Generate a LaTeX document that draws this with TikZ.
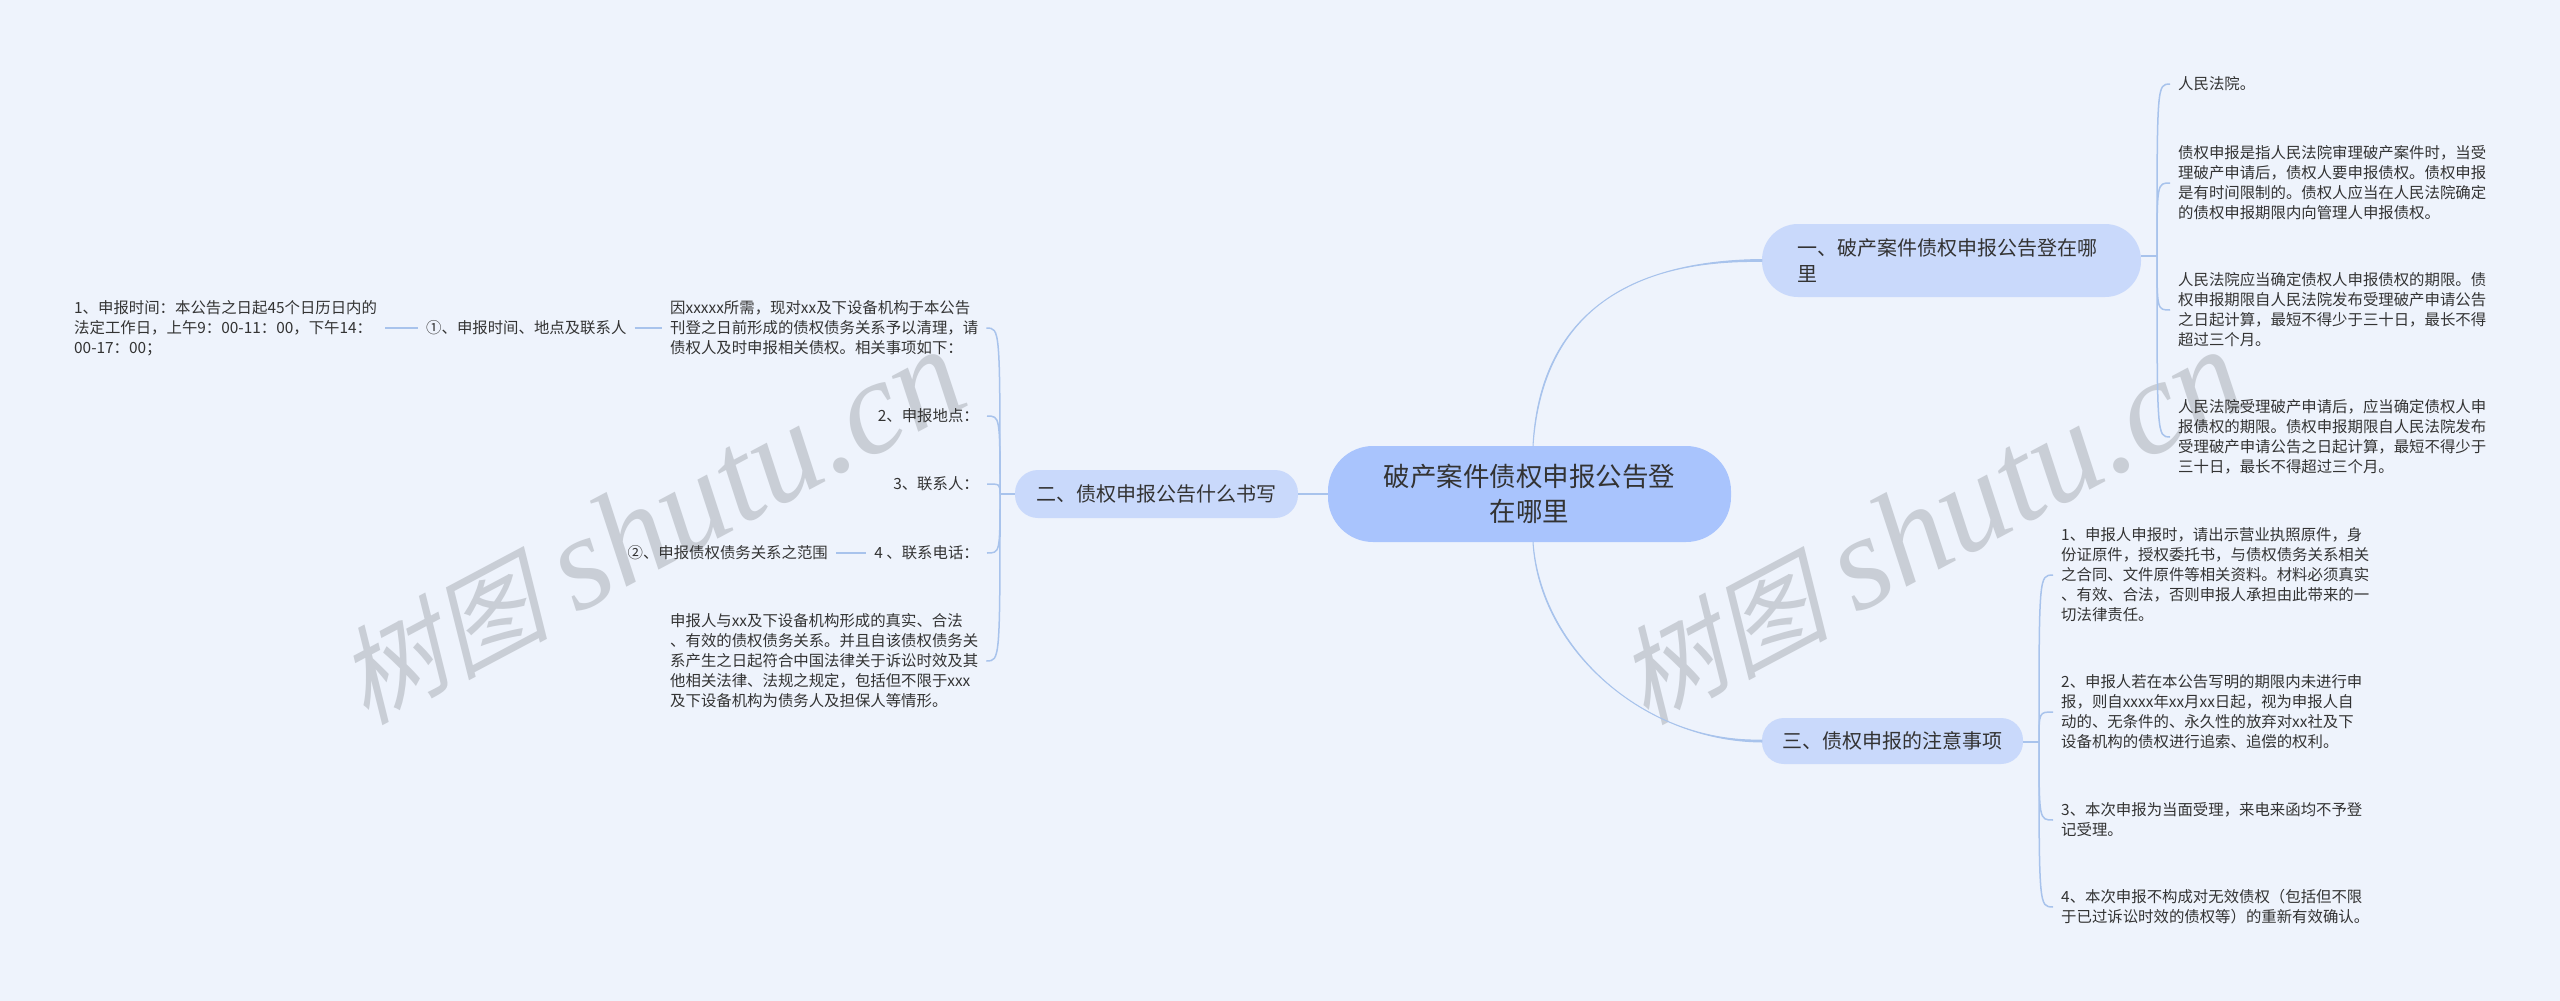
\documentclass[tikz,border=0pt]{standalone}
\usepackage{fontspec}
\setmainfont{Noto Sans CJK SC}
\newfontfamily\wmcjk[FakeSlant=0.25]{Noto Sans CJK SC}
\newfontfamily\wmlat{Liberation Serif Italic}
\definecolor{bgc}{HTML}{EEF3FC}
\definecolor{rootc}{HTML}{A9C4FD}
\definecolor{branchc}{HTML}{C9D9FB}
\definecolor{linec}{HTML}{A8C3EC}
\definecolor{textc}{HTML}{333333}
\definecolor{wmc}{HTML}{C9CED6}
\tikzset{
  x=1pt,y=-1pt,
  leaf/.style={inner xsep=8pt,inner ysep=0pt,align=left,text=textc,font=\fontsize{15.4}{20}\selectfont},
  rootnode/.style={fill=rootc,rounded corners=45pt,minimum width=403pt,minimum height=96pt,inner sep=0pt,align=center,text=textc,font=\fontsize{26.5}{35}\selectfont},
  branch/.style={fill=branchc,inner sep=0pt,text=textc,font=\fontsize{20}{26}\selectfont},
  wmark/.style={text=wmc,rotate=28,inner sep=0pt},
  thick line/.style={draw=linec,line width=2.5pt},
  thin line/.style={draw=linec,line width=1.5pt},
  taper/.style={draw=linec,fill=linec,line width=1pt,line join=round},
}
\newcommand{\wmtext}{{\fontsize{106}{110}\selectfont\wmcjk 树图}\hspace{26pt}{\fontsize{134}{110}\selectfont\wmlat shutu.cn}}
\begin{document}
\begin{tikzpicture}
\useasboundingbox[fill=bgc] (0,0) rectangle (2560,1001);
% watermarks
\node[wmark] (w1) at (650,527) {\wmtext};
\node[wmark] (w2) at (1930,527) {\wmtext};
% main nodes
\node[rootnode] (root) at (1529.5,494) {破产案件债权申报公告登\\在哪里};
\node[branch,rounded corners=36pt,minimum width=379pt,minimum height=73pt,text width=308pt,align=left] (b1) at (1951.5,260.5) {一、破产案件债权申报公告登在哪\\里};
\node[branch,rounded corners=23pt,minimum width=283pt,minimum height=48pt,align=center] (b2) at (1156.5,494) {二、债权申报公告什么书写};
\node[branch,rounded corners=22pt,minimum width=261pt,minimum height=46pt,align=center] (b3) at (1892.5,741) {三、债权申报的注意事项};
% right upper leaves
\coordinate (p1) at (2157,256);
\node[leaf,anchor=west] (a1) at (2170,84) {人民法院。};
\node[leaf,anchor=west] (a2) at (2170,183) {债权申报是指人民法院审理破产案件时，当受\\理破产申请后，债权人要申报债权。债权申报\\是有时间限制的。债权人应当在人民法院确定\\的债权申报期限内向管理人申报债权。};
\node[leaf,anchor=west] (a3) at (2170,310) {人民法院应当确定债权人申报债权的期限。债\\权申报期限自人民法院发布受理破产申请公告\\之日起计算，最短不得少于三十日，最长不得\\超过三个月。};
\node[leaf,anchor=west] (a4) at (2170,437) {人民法院受理破产申请后，应当确定债权人申\\报债权的期限。债权申报期限自人民法院发布\\受理破产申请公告之日起计算，最短不得少于\\三十日，最长不得超过三个月。};
% right lower leaves
\coordinate (p3) at (2039,742);
\node[leaf,anchor=west] (c1) at (2053,575) {1、申报人申报时，请出示营业执照原件，身\\份证原件，授权委托书，与债权债务关系相关\\之合同、文件原件等相关资料。材料必须真实\\、有效、合法，否则申报人承担由此带来的一\\切法律责任。};
\node[leaf,anchor=west] (c2) at (2053,712) {2、申报人若在本公告写明的期限内未进行申\\报，则自xxxx年xx月xx日起，视为申报人自\\动的、无条件的、永久性的放弃对xx社及下\\设备机构的债权进行追索、追偿的权利。};
\node[leaf,anchor=west] (c3) at (2053,820) {3、本次申报为当面受理，来电来函均不予登\\记受理。};
\node[leaf,anchor=west] (c4) at (2053,907) {4、本次申报不构成对无效债权（包括但不限\\于已过诉讼时效的债权等）的重新有效确认。};
% left leaves
\coordinate (p2) at (1000,494);
\node[leaf,anchor=west] (d1) at (662,328) {因xxxxx所需，现对xx及下设备机构于本公告\\刊登之日前形成的债权债务关系予以清理，请\\债权人及时申报相关债权。相关事项如下：};
\node[leaf,anchor=east] (d2) at (987,416) {2、申报地点：};
\node[leaf,anchor=east] (d3) at (987,484) {3、联系人：};
\node[leaf,anchor=east] (d4) at (987,553) {4 、联系电话：};
\node[leaf,anchor=west] (d5) at (662,661) {申报人与xx及下设备机构形成的真实、合法\\、有效的债权债务关系。并且自该债权债务关\\系产生之日起符合中国法律关于诉讼时效及其\\他相关法律、法规之规定，包括但不限于xxx\\及下设备机构为债务人及担保人等情形。};
\node[leaf,anchor=west] (e1) at (418,328) {①、申报时间、地点及联系人};
\node[leaf,anchor=east] (e2) at (836,553) {②、申报债权债务关系之范围};
\node[leaf,anchor=west] (f1) at (66,328) {1、申报时间：本公告之日起45个日历日内的\\法定工作日，上午9：00-11：00，下午14：\\00-17：00；};
% tapered main connectors
\coordinate (rt) at ([xshift=3.5pt]root.north);
\coordinate (rb) at ([xshift=3.5pt]root.south);
\draw[taper] (rt) .. controls (1541,330) and (1610,259) .. ([yshift=-1pt]b1.west) -- ([yshift=1pt]b1.west) .. controls (1610,261) and (1539,330) .. (rt) -- cycle;
\draw[taper] (rb) .. controls (1541,650) and (1645,743) .. ([yshift=1pt]b3.west) -- ([yshift=-1pt]b3.west) .. controls (1645,741) and (1539,650) .. (rb) -- cycle;
\draw[thick line] (root.west) -- (b2.east);
% stubs
\draw[thick line] (b1.east |- p1) -- (p1);
\draw[thick line] (b2.west) -- (p2);
\draw[thick line] (b3.east |- p3) -- (p3);
\draw[thick line] (f1.east) -- (e1.west);
\draw[thick line] (e1.east) -- (d1.west);
\draw[thick line] (e2.east) -- (d4.west);
% brackets
\foreach \t in {a1,a2,a3,a4} \draw[thin line] (p1) .. controls (p1|-\t.west) and (p1|-\t.west) .. (\t.west);
\foreach \t in {c1,c2,c3,c4} \draw[thin line] (p3) .. controls (p3|-\t.west) and (p3|-\t.west) .. (\t.west);
\draw[thin line] (p2) .. controls (p2|-d1.east) and (p2|-d1.east) .. (d1.east);
\foreach \t in {d2,d3,d4} \draw[thin line] (p2) .. controls (p2|-\t.east) and (p2|-\t.east) .. (\t.east);
\draw[thin line] (p2) .. controls (p2|-d5.east) and (p2|-d5.east) .. (d5.east);
\end{tikzpicture}
\end{document}
